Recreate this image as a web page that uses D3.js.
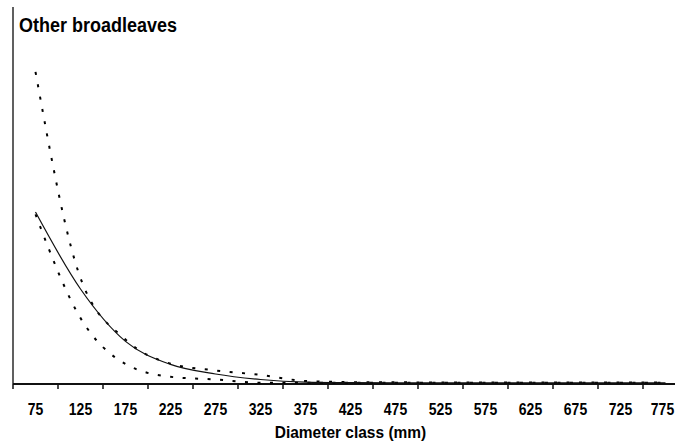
<!DOCTYPE html>
<html lang="en">
<head>
  <meta charset="utf-8">
  <title>Other broadleaves</title>
  <script src="https://d3js.org/d3.v7.min.js"></script>
  <style>
    body { margin: 0; background: #fff; }
    svg text { font-family: "Liberation Sans", Arial, sans-serif; font-weight: bold; fill: #000; }
    .axis path.domain { display: none; }
  </style>
</head>
<body>
  <script>
    // data (y in arbitrary units, no y labels shown)
    const diameterClasses = [75, 125, 175, 225, 275, 325, 375, 425, 475, 525, 575, 625, 675, 725, 775];
    const fittedValues = [45.6, 25.2, 11.3, 5.2, 2.65, 1.2, 0.5, 0.35, 0.3, 0.3, 0.3, 0.3, 0.3, 0.3, 0.3];
    const upperValues = [82.8, 28.1, 11.8, 5.4, 3.6, 2.4, 0.8, 0.5, 0.45, 0.4, 0.4, 0.4, 0.4, 0.4, 0.4];
    const lowerValues = [45.0, 17.5, 5.3, 1.9, 1.2, 0.35, 0.3, 0.3, 0.3, 0.3, 0.3, 0.3, 0.3, 0.3, 0.3];

    const width = 675, height = 444;
    const plotLeft = 13, bandW = 45, plotTop = 7, plotBottom = 384;

    const svg = d3.select("body").append("svg")
      .attr("width", width).attr("height", height);

    const xScale = d3.scaleBand()
      .domain(diameterClasses)
      .range([plotLeft, plotLeft + bandW * diameterClasses.length])
      .padding(0);
    const yScale = d3.scaleLinear()
      .domain([0, 100])
      .range([plotBottom, plotTop]);

    // title
    svg.append("text")
      .attr("transform", "translate(19,32) scale(1,1.12)")
      .style("font-size", "18px")
      .text("Other broadleaves");

    // y axis line (no labels)
    svg.append("line")
      .attr("x1", plotLeft).attr("x2", plotLeft)
      .attr("y1", yScale(100)).attr("y2", yScale(0))
      .attr("stroke", "#606060").attr("stroke-width", 2);

    // x axis: labels at band centres
    const xAxis = d3.axisBottom(xScale).tickSize(0).tickPadding(0);
    const xGroup = svg.append("g").attr("class", "axis")
      .attr("transform", `translate(0,${plotBottom})`)
      .call(xAxis);
    xGroup.selectAll(".tick text")
      .attr("dy", null)
      .attr("y", null)
      .attr("transform", (d, i) => `translate(${i === diameterClasses.length - 1 ? -3 : 0},31) scale(1,1.18)`)
      .style("font-size", "14px");

    // axis line + ticks at band edges
    svg.append("line")
      .attr("x1", plotLeft).attr("x2", width)
      .attr("y1", plotBottom).attr("y2", plotBottom)
      .attr("stroke", "#111").attr("stroke-width", 2);
    svg.append("g").selectAll("line")
      .data(diameterClasses)
      .join("line")
      .attr("x1", d => xScale(d)).attr("x2", d => xScale(d))
      .attr("y1", plotBottom).attr("y2", plotBottom + 5)
      .attr("stroke", "#111").attr("stroke-width", 1.5);

    svg.append("text")
      .attr("transform", `translate(${(xScale.range()[0] + xScale.range()[1]) / 2},438) scale(1,1.1)`)
      .attr("text-anchor", "middle")
      .style("font-size", "15.5px")
      .text("Diameter class (mm)");

    // lines
    const line = d3.line()
      .x((d, i) => xScale(diameterClasses[i]) + xScale.bandwidth() / 2)
      .y(d => yScale(d))
      .curve(d3.curveMonotoneX);

    svg.append("path").datum(upperValues)
      .attr("d", line).attr("fill", "none")
      .attr("stroke", "#000").attr("stroke-width", 2)
      .attr("stroke-dasharray", "3,9.5");
    svg.append("path").datum(lowerValues)
      .attr("d", line).attr("fill", "none")
      .attr("stroke", "#000").attr("stroke-width", 2)
      .attr("stroke-dasharray", "3,9.5");
    svg.append("path").datum(fittedValues)
      .attr("d", line).attr("fill", "none")
      .attr("stroke", "#111").attr("stroke-width", 1.2);
  </script>
</body>
</html>
